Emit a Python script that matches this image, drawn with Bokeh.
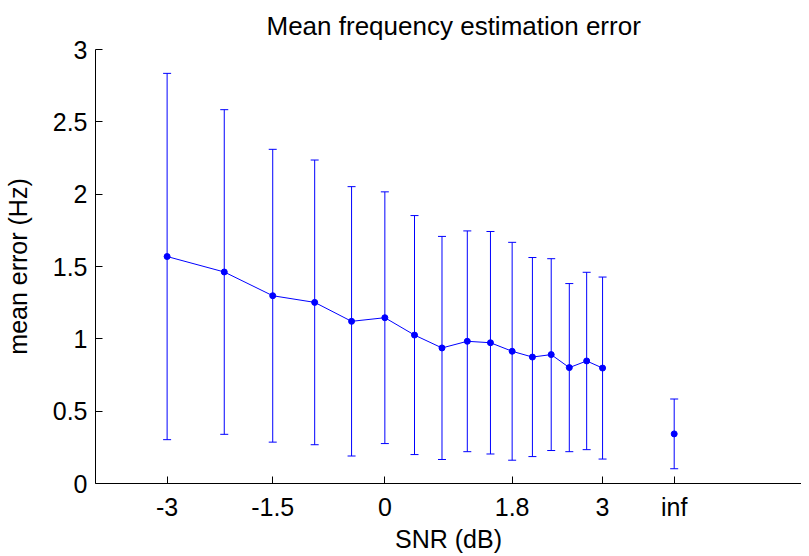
from bokeh.plotting import figure
from bokeh.models import ColumnDataSource, Whisker, TeeHead, FixedTicker, Range1d
from bokeh.embed import file_html
from bokeh.resources import INLINE

# SNR positions (dB) of the measured points
snr_db = [-3.01, -2.22, -1.55, -0.97, -0.46, 0.0, 0.41, 0.79, 1.14, 1.46,
          1.76, 2.04, 2.30, 2.55, 2.79, 3.01]
mean_err = [1.569, 1.462, 1.298, 1.252, 1.121, 1.146, 1.026, 0.937, 0.983, 0.973,
            0.914, 0.874, 0.891, 0.801, 0.847, 0.798]
std_err = [1.266, 1.122, 1.012, 0.984, 0.931, 0.870, 0.826, 0.771, 0.763, 0.769,
           0.753, 0.688, 0.663, 0.581, 0.613, 0.629]

# noise-free case, plotted at the "inf" position
inf_pos = [4.0]
inf_mean = [0.343]
inf_std = [0.241]

x_ticks = [-3.01, -1.55, 0.0, 1.76, 3.01, 4.0]
x_tick_labels = ["-3", "-1.5", "0", "1.8", "3", "inf"]
y_ticks = [0, 0.5, 1, 1.5, 2, 2.5, 3]
y_tick_labels = ["0", "0.5", "1", "1.5", "2", "2.5", "3"]

FONT = "Liberation Sans"
BLUE = "#0000ff"

src = ColumnDataSource(dict(
    x=snr_db, y=mean_err,
    lo=[m - s for m, s in zip(mean_err, std_err)],
    hi=[m + s for m, s in zip(mean_err, std_err)],
))
src_inf = ColumnDataSource(dict(
    x=inf_pos, y=inf_mean,
    lo=[m - s for m, s in zip(inf_mean, inf_std)],
    hi=[m + s for m, s in zip(inf_mean, inf_std)],
))

p = figure(frame_width=706, frame_height=434, output_backend="svg", toolbar_location=None,
           x_range=Range1d(-4.0, 5.76), y_range=Range1d(0, 3),
           min_border_left=0, min_border_right=0, min_border_top=0,
           min_border_bottom=0)

p.title.text = "Mean frequency estimation error"
p.title.text_font = FONT
p.title.text_font_size = "26px"
p.title.text_font_style = "normal"
p.title.text_color = "black"
p.title.align = "left"
p.title.offset = 171
p.title.standoff = 17

for src_ in (src, src_inf):
    w = Whisker(source=src_, base="x", upper="hi", lower="lo", dimension="height",
                line_color=BLUE, line_width=1,
                upper_head=TeeHead(size=8, line_color=BLUE, line_width=1),
                lower_head=TeeHead(size=8, line_color=BLUE, line_width=1))
    p.add_layout(w)

p.line("x", "y", source=src, line_color=BLUE, line_width=1)
p.scatter("x", "y", source=src, size=6, color=BLUE)
p.scatter("x", "y", source=src_inf, size=6, color=BLUE)

p.xgrid.visible = False
p.ygrid.visible = False
p.outline_line_color = None
p.background_fill_color = "white"
p.border_fill_color = "white"

xa = p.xaxis[0]
xa.ticker = FixedTicker(ticks=x_ticks)
xa.major_label_overrides = {t: l for t, l in zip(x_ticks, x_tick_labels)}
xa.axis_label = "SNR (dB)"
ya = p.yaxis[0]
ya.ticker = FixedTicker(ticks=y_ticks)
ya.major_label_overrides = {t: l for t, l in zip(y_ticks, y_tick_labels)}
ya.axis_label = "mean error (Hz)"

for ax in (xa, ya):
    ax.minor_tick_line_color = None
    ax.major_tick_in = 7
    ax.major_tick_out = 0
    ax.axis_line_color = "black"
    ax.major_tick_line_color = "black"
    ax.major_label_text_font = FONT
    ax.major_label_text_font_size = "25px"
    ax.major_label_text_color = "black"
    ax.axis_label_text_font = FONT
    ax.axis_label_text_font_size = "25px"
    ax.axis_label_text_font_style = "normal"
    ax.axis_label_text_color = "black"

xa.major_label_standoff = 9
xa.axis_label_standoff = 1
ya.major_label_standoff = 8
ya.axis_label_standoff = 18

open("out.html", "w").write(file_html(p, INLINE))
